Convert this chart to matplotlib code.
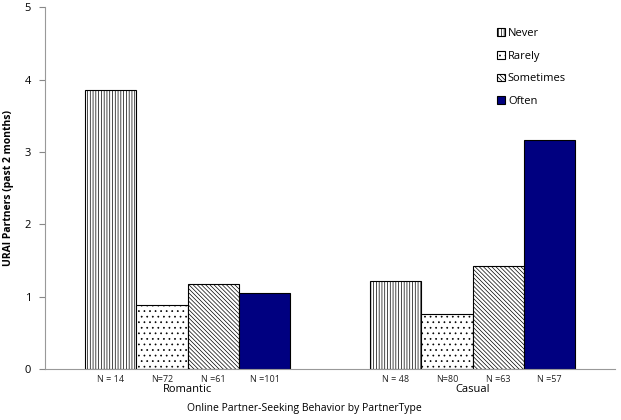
import numpy as np
import matplotlib as mpl
mpl.use('Agg')
import matplotlib.pyplot as plt
from matplotlib.patches import Patch

plt.rcParams['font.family'] = ['Open Sans', 'DejaVu Sans']
plt.rcParams['hatch.linewidth'] = 0.5

# data
groups = ['Romantic', 'Casual']
series = ['Never', 'Rarely', 'Sometimes', 'Often']
values = {
    'Never':     [3.86, 1.22],
    'Rarely':    [0.89, 0.76],
    'Sometimes': [1.17, 1.43],
    'Often':     [1.05, 3.16],
}
n_labels = [['N = 14', 'N=72', 'N =61', 'N =101'],
            ['N = 48', 'N=80', 'N =63', 'N =57']]

hatches = ['||||||', '...', '\\\\\\\\\\\\\\\\', '']
colors = ['white', 'white', 'white', '#000080']

fig = plt.figure(figsize=(6.21, 4.20), dpi=100)
ax = fig.add_axes([0.0725, 0.121, 0.918, 0.862])

width = 0.18
centers = np.array([0.5, 1.5])
offsets = (np.arange(len(series)) - 1.5) * width

for k, s in enumerate(series):
    ax.bar(centers + offsets[k], values[s], width, color=colors[k],
           hatch=hatches[k], edgecolor='black', linewidth=0.8, label=s)

for g in range(len(groups)):
    for k in range(len(series)):
        ax.text(centers[g] + offsets[k], -0.08, n_labels[g][k], ha='center',
                va='top', fontsize=6.5, color='#222222')
    ax.text(centers[g], -0.2, groups[g], ha='center', va='top', fontsize=8)

ax.set_xlim(0, 2)
ax.set_ylim(0, 5)
ax.set_xticks([])
ax.set_yticks(range(6))
ax.tick_params(axis='y', labelsize=8, length=4, color='#888888', pad=6)
for side in ['top', 'right']:
    ax.spines[side].set_visible(False)
for side in ['left', 'bottom']:
    ax.spines[side].set_color('#999999')
    ax.spines[side].set_linewidth(0.8)

ax.set_ylabel('URAI Partners (past 2 months)', fontsize=7.5, fontweight='bold', labelpad=8)
fig.text(0.49, 0.028, 'Online Partner-Seeking Behavior by PartnerType', ha='center',
         va='center', fontsize=7.5)

handles = [Patch(facecolor=colors[k], edgecolor='black', hatch=hatches[k], linewidth=0.8)
           for k in range(len(series))]
ax.legend(handles, series, loc='upper left', bbox_to_anchor=(0.775, 0.97), frameon=False,
          fontsize=8, handlelength=0.7, handleheight=0.7, handletextpad=0.3,
          labelspacing=1.05)

fig.savefig('out.png', dpi=100)
